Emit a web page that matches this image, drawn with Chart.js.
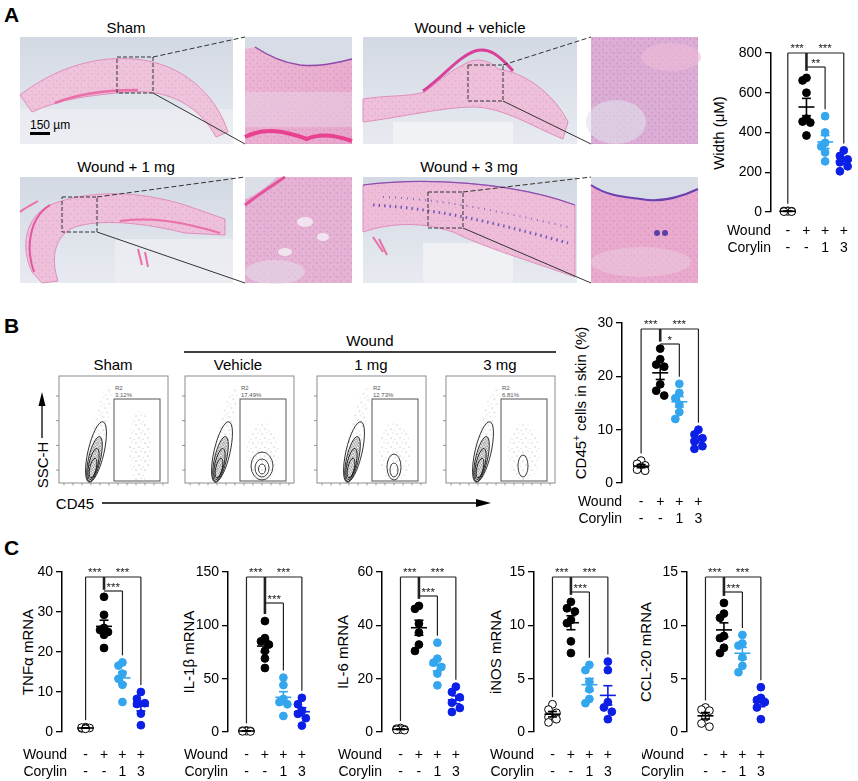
<!DOCTYPE html>
<html><head><meta charset="utf-8">
<script src="https://cdn.jsdelivr.net/npm/chart.js@4.4.0/dist/chart.umd.min.js"></script>
<style>
body{margin:0;background:#fff;}
#fig{position:relative;width:858px;height:781px;overflow:hidden;font-family:"Liberation Sans",Arial,Helvetica,sans-serif;color:#000;background:#fff;}
.lbl{position:absolute;font-weight:bold;font-size:21px;line-height:1;}
.t{position:absolute;font-size:15px;line-height:1;white-space:nowrap;transform:translate(-50%,-50%);}
.yt{position:absolute;font-size:15px;line-height:1;white-space:nowrap;transform:translate(-50%,-50%) rotate(-90deg);}
.yt sup{font-size:10px;line-height:0;}
canvas{position:absolute;}
svg{position:absolute;left:0;top:0;}
</style></head>
<body>
<div id="fig">
<svg id="art" width="858" height="781" font-family="Liberation Sans, Arial, sans-serif">
<defs>
 <linearGradient id="bg" x1="0" y1="0" x2="0" y2="1"><stop offset="0" stop-color="#d3d9e3"/><stop offset="1" stop-color="#e7eaf0"/></linearGradient>
 <linearGradient id="pk" x1="0" y1="0" x2="1" y2="1"><stop offset="0" stop-color="#eeb9d5"/><stop offset="1" stop-color="#e7a6cb"/></linearGradient>
 <pattern id="cells" width="7" height="7" patternUnits="userSpaceOnUse">
   <circle cx="1.5" cy="2" r="0.8" fill="#9a62bd" opacity=".55"/>
   <circle cx="5" cy="5.5" r="0.7" fill="#9a62bd" opacity=".45"/>
   <circle cx="5.5" cy="1" r="0.5" fill="#c0509a" opacity=".5"/>
 </pattern>
 <pattern id="stip" width="9" height="9" patternUnits="userSpaceOnUse">
   <circle cx="1" cy="2" r=".5" fill="#555"/><circle cx="6" cy="1" r=".45" fill="#666"/><circle cx="4" cy="6" r=".5" fill="#555"/><circle cx="8" cy="7.5" r=".45" fill="#777"/>
 </pattern>
 <pattern id="dense" width="3" height="3" patternUnits="userSpaceOnUse"><circle cx="1" cy="1" r=".7" fill="#222"/><circle cx="2.5" cy="2.3" r=".5" fill="#333"/></pattern>
</defs>

<!-- Sham -->
<g transform="translate(20,37)">
 <rect width="213" height="107" fill="url(#bg)"/>
 <rect y="72" width="213" height="35" fill="#eceef3" opacity=".7"/>
 <path d="M0,58 C30,35 70,18 115,22 C160,26 195,55 208,95 L196,100 C180,70 150,52 110,55 C70,58 40,62 12,75 Z" fill="#efc3da" stroke="#e08fbc" stroke-width="1"/>
 <path d="M0,58 C30,35 70,18 115,22 C160,26 195,55 208,95 L196,100 C180,70 150,52 110,55 C70,58 40,62 12,75 Z" fill="url(#cells)" opacity=".5"/>
 <path d="M35,66 C60,56 90,53 118,53" stroke="#ea6fa9" stroke-width="2.5" fill="none"/>
</g>
<g transform="translate(245,37)">
 <rect width="107" height="107" fill="url(#pk)"/>
 <rect width="107" height="107" fill="url(#cells)" opacity=".7"/>
 <path d="M0,0 H107 V22 C90,26 75,30 55,28 C40,26 25,20 10,10 L0,12 Z" fill="#d7dce6"/>
 <path d="M10,10 C25,20 40,26 55,28 C75,30 90,26 107,22" stroke="#8f4aa8" stroke-width="1.5" fill="none"/>
 <path d="M0,100 C20,90 40,94 62,102 C75,96 90,98 107,104" stroke="#e8418f" stroke-width="4" fill="none"/>
 <rect y="55" width="107" height="35" fill="#e8d6e6" opacity=".5"/>
</g>

<!-- Vehicle -->
<g transform="translate(363,37)">
 <rect width="214" height="107" fill="url(#bg)"/>
 <rect x="30" y="85" width="120" height="22" fill="#f1f2f5"/>
 <path d="M0,62 C25,58 45,60 62,55 C75,45 85,35 100,28 C112,20 125,22 135,32 C160,35 190,55 205,85 L200,102 C170,90 140,70 110,70 C80,70 40,80 0,85 Z" fill="#efc0d9" stroke="#e08fbc" stroke-width="1"/>
 <path d="M0,62 C25,58 45,60 62,55 C75,45 85,35 100,28 C112,20 125,22 135,32 C160,35 190,55 205,85 L200,102 C170,90 140,70 110,70 C80,70 40,80 0,85 Z" fill="url(#cells)" opacity=".5"/>
 <path d="M60,54 C80,40 95,20 112,14 C126,10 136,18 150,34" stroke="#d8409a" stroke-width="3" fill="none"/>
</g>
<g transform="translate(591,37)">
 <rect width="107" height="107" fill="#dcaed6"/>
 <rect width="107" height="107" fill="url(#cells)" opacity=".9"/>
 <ellipse cx="25" cy="85" rx="30" ry="22" fill="#dfe0ea" opacity=".6"/>
 <ellipse cx="80" cy="20" rx="30" ry="14" fill="#efbad6" opacity=".6"/>
</g>

<!-- 1 mg -->
<g transform="translate(20,177)">
 <rect width="213" height="106" fill="url(#bg)"/>
 <rect x="95" y="62" width="118" height="44" fill="#eceef3" opacity=".8"/>
 <path d="M12,95 C0,70 5,40 30,28 C70,12 120,14 165,28 L205,42 L205,58 L165,56 C120,45 80,42 55,50 C35,58 30,80 38,104 L22,106 Z" fill="#efc0d9" stroke="#e08fbc" stroke-width="1"/>
 <path d="M12,95 C0,70 5,40 30,28 C70,12 120,14 165,28 L205,42 L205,58 L165,56 C120,45 80,42 55,50 C35,58 30,80 38,104 L22,106 Z" fill="url(#cells)" opacity=".5"/>
 <path d="M30,28 C10,40 5,70 14,95" stroke="#e0579f" stroke-width="2" fill="none"/>
 <path d="M100,44 C130,40 160,44 200,56" stroke="#ea6fa9" stroke-width="2" fill="none"/>
 <path d="M118,72 L122,88 M125,75 L128,90" stroke="#ea6fa9" stroke-width="2"/>
 <path d="M0,35 C6,30 12,28 18,24" stroke="#ea6fa9" stroke-width="2" fill="none"/>
</g>
<g transform="translate(245,177)">
 <rect width="107" height="106" fill="#e6b3d4"/>
 <rect width="107" height="106" fill="url(#cells)" opacity=".8"/>
 <path d="M0,0 H32 C22,10 10,18 0,22 Z" fill="#dcdfe8"/>
 <path d="M0,28 C10,20 25,10 40,0" stroke="#e2559b" stroke-width="3" fill="none"/>
 <ellipse cx="60" cy="45" rx="8" ry="5" fill="#f1e4ef"/>
 <ellipse cx="78" cy="60" rx="6" ry="4" fill="#f1e4ef"/>
 <ellipse cx="40" cy="75" rx="7" ry="4" fill="#f1e4ef"/>
 <ellipse cx="30" cy="95" rx="30" ry="12" fill="#e4dbe8" opacity=".6"/>
</g>

<!-- 3 mg -->
<g transform="translate(363,177)">
 <rect width="214" height="106" fill="url(#bg)"/>
 <rect x="60" y="66" width="90" height="40" fill="#eef0f4"/>
 <path d="M0,8 C60,0 150,5 212,28 L212,100 C170,85 120,70 90,55 C60,45 30,45 0,55 Z" fill="#efbdd8" stroke="#e08fbc" stroke-width="1"/>
 <path d="M0,8 C60,0 150,5 212,28 L212,100 C170,85 120,70 90,55 C60,45 30,45 0,55 Z" fill="url(#cells)" opacity=".5"/>
 <path d="M0,8 C60,0 150,5 212,28" stroke="#8a4fb0" stroke-width="1.2" fill="none"/>
 <path d="M10,28 C80,32 140,48 205,66" stroke="#5a45b8" stroke-width="3" stroke-dasharray="1.5 4" fill="none" opacity=".85"/>
 <path d="M20,20 C80,22 140,35 205,50" stroke="#5a45b8" stroke-width="2" stroke-dasharray="1 5" fill="none" opacity=".7"/>
 <path d="M10,60 L20,75 M16,62 L24,78" stroke="#ea6fa9" stroke-width="2"/>
</g>
<g transform="translate(591,177)">
 <rect width="107" height="106" fill="#eaaacd"/>
 <rect width="107" height="106" fill="url(#cells)" opacity=".7"/>
 <path d="M0,0 H107 V12 C90,20 70,26 50,22 C30,20 15,18 0,8 Z" fill="#d8dce6"/>
 <path d="M0,8 C15,18 30,20 50,22 C70,26 90,20 107,12" stroke="#6a3fb0" stroke-width="2" fill="none"/>
 <circle cx="66" cy="56" r="3" fill="#5a3fa8"/><circle cx="74" cy="56" r="3" fill="#5a3fa8"/>
 <ellipse cx="50" cy="85" rx="50" ry="15" fill="#ead3e2" opacity=".45"/>
</g>

<!-- zoom boxes and connector lines -->
<g stroke="#333" stroke-width="1" fill="none">
 <rect x="117" y="57" width="36" height="36" stroke-dasharray="4 2"/>
 <line x1="153" y1="57" x2="245" y2="37" stroke-dasharray="5 2.5"/>
 <line x1="153" y1="93" x2="245" y2="144"/>
 <rect x="468" y="65" width="35" height="36" stroke-dasharray="4 2"/>
 <line x1="503" y1="65" x2="591" y2="37" stroke-dasharray="5 2.5"/>
 <line x1="503" y1="101" x2="591" y2="144"/>
 <rect x="62" y="197" width="35" height="35" stroke-dasharray="4 2"/>
 <line x1="97" y1="197" x2="245" y2="177" stroke-dasharray="5 2.5"/>
 <line x1="97" y1="232" x2="245" y2="283"/>
 <rect x="428" y="192" width="35" height="36" stroke-dasharray="4 2"/>
 <line x1="463" y1="192" x2="591" y2="177" stroke-dasharray="5 2.5"/>
 <line x1="463" y1="228" x2="591" y2="283"/>
</g>
<rect x="30" y="132" width="20" height="3" fill="#000"/>
<text x="30" y="129" font-size="12" fill="#000">150 µm</text>

<!-- B header lines/arrows -->
<line x1="184" y1="352" x2="556" y2="352" stroke="#000" stroke-width="1.5"/>
<line x1="42" y1="438" x2="42" y2="404" stroke="#000" stroke-width="1.3"/>
<path d="M38.5,406 L42,392 L45.5,406 Z" fill="#000"/>
<line x1="102" y1="503" x2="478" y2="503" stroke="#000" stroke-width="1.3"/>
<path d="M476,499 L491,503 L476,507 Z" fill="#000"/>
<g id="flow"></g>
</svg>

<div class="lbl" style="left:4px;top:4px">A</div>
<div class="lbl" style="left:4px;top:315px">B</div>
<div class="lbl" style="left:4px;top:537px">C</div>

<div class="t" style="left:126px;top:27px">Sham</div>
<div class="t" style="left:470px;top:27px">Wound + vehicle</div>
<div class="t" style="left:126px;top:166px">Wound + 1 mg</div>
<div class="t" style="left:469px;top:166px">Wound + 3 mg</div>

<div class="t" style="left:370px;top:340px">Wound</div>
<div class="t" style="left:113px;top:364px">Sham</div>
<div class="t" style="left:238px;top:364px">Vehicle</div>
<div class="t" style="left:371px;top:364px">1 mg</div>
<div class="t" style="left:500px;top:364px">3 mg</div>
<div class="yt" style="left:42px;top:465px">SSC-H</div>
<div class="t" style="left:75px;top:503px">CD45</div>

<div class="yt" style="left:718px;top:133px">Width (μM)</div>
<div class="yt" style="left:580px;top:403px">CD45<sup>+</sup> cells in skin (%)</div>
<div class="yt" style="left:27px;top:652px">TNFα mRNA</div>
<div class="yt" style="left:188px;top:652px">IL-1β mRNA</div>
<div class="yt" style="left:342px;top:652px">IL-6 mRNA</div>
<div class="yt" style="left:495px;top:652px">iNOS mRNA</div>
<div class="yt" style="left:645px;top:652px">CCL-20 mRNA</div>
</div>

<script>
// ---------------- DATA ----------------
const rowNames = ['Wound', 'Corylin'];
const woundRow = ['-', '+', '+', '+'];
const corylinRow = ['-', '-', '1', '3'];

// A: wound width (µM)
const widthSham    = [6, 5, 4, 3, 2, 2];
const widthVehicle = [675, 662, 600, 470, 455, 450, 385];
const width1mg     = [482, 400, 348, 330, 300, 255];
const width3mg     = [310, 282, 265, 250, 230, 205];
const widthAxis = [800, 200];          // max, step
const widthSig = ['***', '***', '**'];

// B: CD45+ cells in skin (%)
const cd45Sham    = [4.2, 3.6, 3.3, 3.0, 2.5, 2.3];
const cd45Vehicle = [25.2, 23.2, 22.2, 21.8, 18.5, 17.3, 16.4];
const cd451mg     = [18.6, 16.9, 15.9, 14.7, 13.3, 12.0];
const cd453mg     = [10.0, 9.1, 8.4, 7.8, 6.9, 6.4];
const cd45Axis = [30, 10];
const cd45Sig = ['***', '***', '*'];

// B: flow cytometry panels
const flowGates = ['3.12%', '17.49%', '12.73%', '6.81%'];

// C: mRNA
const tnfSham    = [1.2, 1.0, 0.9, 1.1, 1.0, 0.8];
const tnfVehicle = [33.8, 29.3, 26.0, 25.5, 25.0, 24.3, 21.0];
const tnf1mg     = [17.4, 16.6, 14.6, 13.3, 11.8, 7.5];
const tnf3mg     = [10.0, 8.3, 7.2, 7.0, 4.6, 1.7];
const tnfAxis = [40, 10];

const il1bSham    = [1.5, 1.2, 1.0, 0.8, 0.6, 0.5];
const il1bVehicle = [104, 88, 85, 82, 76, 69, 60];
const il1b1mg     = [51, 44, 31, 28, 26, 15];
const il1b3mg     = [32, 26, 20, 17, 13, 6];
const il1bAxis = [150, 50];

const il6Sham    = [1.5, 1.2, 1.0, 0.9, 0.8, 0.7];
const il6Vehicle = [47.3, 46.2, 40.6, 37.3, 32.8, 30.4];
const il61mg     = [33.5, 27.5, 26.0, 24.4, 21.9, 17.5];
const il63mg     = [17.0, 15.0, 13.0, 11.0, 9.0, 7.5];
const il6Axis = [60, 20];

const inosSham    = [2.6, 2.1, 1.8, 1.4, 1.2, 0.9];
const inosVehicle = [12.2, 11.6, 11.3, 10.5, 10.2, 8.5, 7.4];
const inos1mg     = [6.3, 5.8, 4.7, 4.0, 3.1, 2.7];
const inos3mg     = [6.6, 5.8, 2.8, 2.3, 1.9, 1.2];
const inosAxis = [15, 5];

const cclSham    = [2.3, 2.1, 2.0, 1.4, 0.8, 0.5];
const cclVehicle = [12.1, 11.1, 10.7, 9.0, 8.8, 7.9, 7.4];
const ccl1mg     = [9.1, 8.3, 8.1, 7.0, 6.2, 5.6];
const ccl3mg     = [4.2, 3.2, 3.0, 2.8, 2.3, 1.2];
const cclAxis = [15, 5];
const mrnaSig = ['***', '***', '***'];

// ---------------- STYLE / RENDER ----------------
const FONT = '"Liberation Sans", Arial, Helvetica, sans-serif';
Chart.defaults.font.family = FONT;
Chart.defaults.color = '#000';
const COLORS = ['#000000', '#000000', '#33a6ee', '#0b1fe6'];
const fig = document.getElementById('fig');

// flow panels (decorative contours)
(function(){
  const g = document.getElementById('flow');
  const bxs = [59, 185, 317, 446], by = 376, w = 109, h = 107;
  let s = '';
  bxs.forEach((bx, i) => {
    s += `<rect x="${bx}" y="${by}" width="${w}" height="${h}" fill="#fff" stroke="#8c8c8c" stroke-width="1"/>`;
    for (let k = 0; k < 4; k++) { const y = by + 20 + k * 24.7; s += `<line x1="${bx-3}" y1="${y}" x2="${bx}" y2="${y}" stroke="#777" stroke-width=".8"/>`; }
    for (let x = bx + 5; x < bx + w; x += 9) s += `<line x1="${x}" y1="${by+h}" x2="${x}" y2="${by+h+2.5}" stroke="#777" stroke-width=".7"/>`;
    const gx = bx + 55;
    s += `<text x="${gx+1}" y="390" font-size="6" fill="#555">R2</text><text x="${gx+1}" y="396.5" font-size="6" fill="#555">${flowGates[i]}</text>`;
    s += `<rect x="${gx}" y="399" width="46" height="82" fill="none" stroke="#555" stroke-width="1"/>`;
    const cx = bx + 37;
    s += `<ellipse cx="${cx+3}" cy="${by+55}" rx="7" ry="46" transform="rotate(13 ${cx+3} ${by+55})" fill="url(#stip)" opacity=".8"/>`;
    [[0,76,8,31],[-1.5,83,6,23],[-2.5,88,4.5,16],[-3,92,3.2,10]].forEach((e, k) => {
      const ex = cx + e[0], ey = by + e[1];
      s += `<ellipse cx="${ex}" cy="${ey}" rx="${e[2]}" ry="${e[3]}" transform="rotate(13 ${ex} ${ey})" fill="${k===1?'url(#dense)':'none'}" stroke="#111" stroke-width=".8"/>`;
    });
    if (i === 0) {
      s += `<ellipse cx="${gx+26}" cy="447" rx="11" ry="36" fill="url(#stip)" opacity=".8"/>`;
    } else {
      s += `<ellipse cx="${gx+23}" cy="452" rx="16" ry="30" fill="url(#stip)" opacity=".7"/>`;
      const cs = i === 1 ? [[466,11,14],[468,7,9],[469,3.5,5]] : i === 2 ? [[467,7,13],[470,4,7]] : [[466,5,11]];
      cs.forEach(c => { s += `<ellipse cx="${gx+22}" cy="${c[0]}" rx="${c[1]}" ry="${c[2]}" fill="none" stroke="#111" stroke-width=".8"/>`; });
    }
  });
  g.innerHTML = s;
})();

function swarm(vals, yRange, plotH, catPx) {
  const stepPx = 4, minD = 7;
  const order = vals.map((v, i) => i).sort((a, b) => vals[b] - vals[a]);
  const placed = [], off = new Array(vals.length).fill(0);
  for (const i of order) {
    const yp = vals[i] / yRange * plotH;
    let best = 0, bestD = -1;
    for (const k of [0, -1, 1]) {
      const xp = k * stepPx;
      let d = Infinity;
      for (const p of placed) d = Math.min(d, Math.hypot(p[0] - xp, p[1] - yp));
      if (d >= minD) { best = xp; bestD = d; break; }
      if (d > bestD) { bestD = d; best = xp; }
    }
    placed.push([best, yp]); off[i] = best / catPx;
  }
  return off;
}
const mean = a => a.reduce((s, v) => s + v, 0) / a.length;
const sem = a => { const m = mean(a); return Math.sqrt(a.reduce((s, v) => s + (v - m) ** 2, 0) / (a.length - 1)) / Math.sqrt(a.length); };

const statsPlugin = {
  id: 'stats',
  afterDatasetsDraw(chart) {
    const o = chart.options.plugins.stats;
    const { ctx, chartArea } = chart, x = chart.scales.x, y = chart.scales.y;
    const L = (a, b, c, d) => { ctx.beginPath(); ctx.moveTo(a, b); ctx.lineTo(c, d); ctx.stroke(); };
    ctx.save();
    // mean ± SEM
    o.groups.forEach((vals, g) => {
      const px = x.getPixelForValue(g + 1), m = mean(vals), se = sem(vals);
      ctx.strokeStyle = COLORS[g]; ctx.lineWidth = 1.6;
      const ym = y.getPixelForValue(m), y1 = y.getPixelForValue(m - se), y2 = y.getPixelForValue(m + se);
      L(px - 8, ym, px + 8, ym); L(px, y1, px, y2); L(px - 4.5, y1, px + 4.5, y1); L(px - 4.5, y2, px + 4.5, y2);
    });
    // brackets
    const gx = k => x.getPixelForValue(k);
    const gy = k => y.getPixelForValue(Math.max(...o.groups[k - 1])) - 7;
    const top = chartArea.top + o.topOff, l2 = top + o.l2;
    ctx.strokeStyle = '#222'; ctx.lineWidth = 1.2;
    L(gx(1), top, gx(4), top);
    L(gx(1), top, gx(1), gy(1));
    L(gx(4), top, gx(4), gy(4));
    L(gx(2), l2, gx(3), l2);
    L(gx(3), l2, gx(3), gy(3));
    ctx.lineWidth = 2.6; L(gx(2), top, gx(2), gy(2));
    ctx.fillStyle = '#222'; ctx.font = '11.5px ' + FONT; ctx.textAlign = 'center'; ctx.textBaseline = 'alphabetic';
    ctx.fillText(o.sig[0], (gx(1) + gx(2)) / 2, top - 1.5);
    ctx.fillText(o.sig[1], (gx(2) + gx(4)) / 2, top - 1.5);
    ctx.fillText(o.sig[2], (gx(2) + gx(3)) / 2, l2 - 0.5);
    // row names, aligned with the x tick label lines
    let y0 = x.top + o.tp + 8.75, base = 'middle', lh = 17.5;
    try {
      const it = x.getLabelItems()[0];
      y0 = it.options.translation[1] + it.textOffset; base = it.options.textBaseline || 'middle';
      lh = it.font.lineHeight || lh;
    } catch (e) {}
    ctx.fillStyle = '#000'; ctx.font = '14px ' + FONT; ctx.textAlign = 'right'; ctx.textBaseline = base;
    rowNames.forEach((r, i) => ctx.fillText(r, chartArea.left + o.rowDx, y0 + lh * i));
    ctx.restore();
  }
};

function makeChart(sp, groups, axis, sig) {
  const cv = document.createElement('canvas');
  cv.width = sp.w; cv.height = sp.h;
  cv.style.left = sp.left + 'px'; cv.style.top = sp.top + 'px';
  fig.appendChild(cv);
  const catPx = (sp.w - sp.yw - sp.pr) / (sp.xmax - sp.xmin);
  const datasets = groups.map((vals, g) => {
    const off = swarm(vals, axis[0], 160, catPx);
    return {
      data: vals.map((v, j) => ({ x: g + 1 + off[j], y: v })),
      pointRadius: 3.9, pointHoverRadius: 3.9, pointBorderWidth: 1,
      pointBackgroundColor: g === 0 ? '#ffffff' : COLORS[g],
      pointBorderColor: COLORS[g], showLine: false, clip: false
    };
  });
  new Chart(cv, {
    type: 'scatter',
    data: { datasets },
    plugins: [statsPlugin],
    options: {
      responsive: false, animation: false, events: [],
      layout: { padding: { top: sp.pt, right: sp.pr, left: 0, bottom: 0 } },
      plugins: { legend: { display: false }, tooltip: { enabled: false },
        stats: { groups, sig, topOff: sp.topOff, l2: sp.l2, rowDx: sp.rowDx, tp: sp.tp } },
      scales: {
        x: {
          type: 'linear', min: sp.xmin, max: sp.xmax,
          grid: { display: false }, border: { display: false },
          afterBuildTicks: s => { s.ticks = [1, 2, 3, 4].map(v => ({ value: v })); },
          ticks: { callback: v => [woundRow[v - 1], corylinRow[v - 1]], font: { size: 14, lineHeight: 1.25 }, color: '#000', padding: sp.tp, maxRotation: 0, minRotation: 0, autoSkip: false },
          afterFit: s => { s.height = sp.xh; }
        },
        y: {
          min: 0, max: axis[0],
          ticks: { stepSize: axis[1], font: { size: 14 }, color: '#000', padding: 3 },
          grid: { display: true, drawOnChartArea: false, drawTicks: true, tickLength: 6, color: '#000', lineWidth: 1.3 },
          border: { display: true, color: '#000', width: 1.5 },
          afterFit: s => { s.width = sp.yw; }
        }
      }
    }
  });
}

const cTop = 540, cH = 241;
makeChart({ left: 711, top: 30, w: 147, h: 230, yw: 60, pt: 23, xh: 48, pr: 2, xmin: 0.1, xmax: 4.5, tp: 2, topOff: 0, l2: 14, rowDx: 0 },
  [widthSham, widthVehicle, width1mg, width3mg], widthAxis, widthSig);
makeChart({ left: 570, top: 300, w: 143, h: 231, yw: 52, pt: 23, xh: 48, pr: 5, xmin: 0, xmax: 4.5, tp: 2, topOff: 6, l2: 15, rowDx: 0 },
  [cd45Sham, cd45Vehicle, cd451mg, cd453mg], cd45Axis, cd45Sig);
makeChart({ left: 17, top: cTop, w: 138, h: cH, yw: 45, pt: 32, xh: 49, pr: 4, xmin: -0.28, xmax: 4.5, tp: 6, topOff: 5, l2: 14, rowDx: 5 },
  [tnfSham, tnfVehicle, tnf1mg, tnf3mg], tnfAxis, mrnaSig);
makeChart({ left: 183, top: cTop, w: 133, h: cH, yw: 45, pt: 32, xh: 49, pr: 4, xmin: 0, xmax: 4.5, tp: 6, topOff: 5, l2: 26, rowDx: 0 },
  [il1bSham, il1bVehicle, il1b1mg, il1b3mg], il1bAxis, mrnaSig);
makeChart({ left: 337, top: cTop, w: 133, h: cH, yw: 45, pt: 32, xh: 49, pr: 4, xmin: 0, xmax: 4.5, tp: 6, topOff: 5, l2: 19, rowDx: 0 },
  [il6Sham, il6Vehicle, il61mg, il63mg], il6Axis, mrnaSig);
makeChart({ left: 489, top: cTop, w: 133, h: cH, yw: 45, pt: 32, xh: 49, pr: 4, xmin: 0, xmax: 4.5, tp: 6, topOff: 5, l2: 15, rowDx: 0 },
  [inosSham, inosVehicle, inos1mg, inos3mg], inosAxis, mrnaSig);
makeChart({ left: 642, top: cTop, w: 133, h: cH, yw: 45, pt: 32, xh: 49, pr: 4, xmin: 0, xmax: 4.5, tp: 6, topOff: 5, l2: 15, rowDx: -3 },
  [cclSham, cclVehicle, ccl1mg, ccl3mg], cclAxis, mrnaSig);
</script>
</body></html>
